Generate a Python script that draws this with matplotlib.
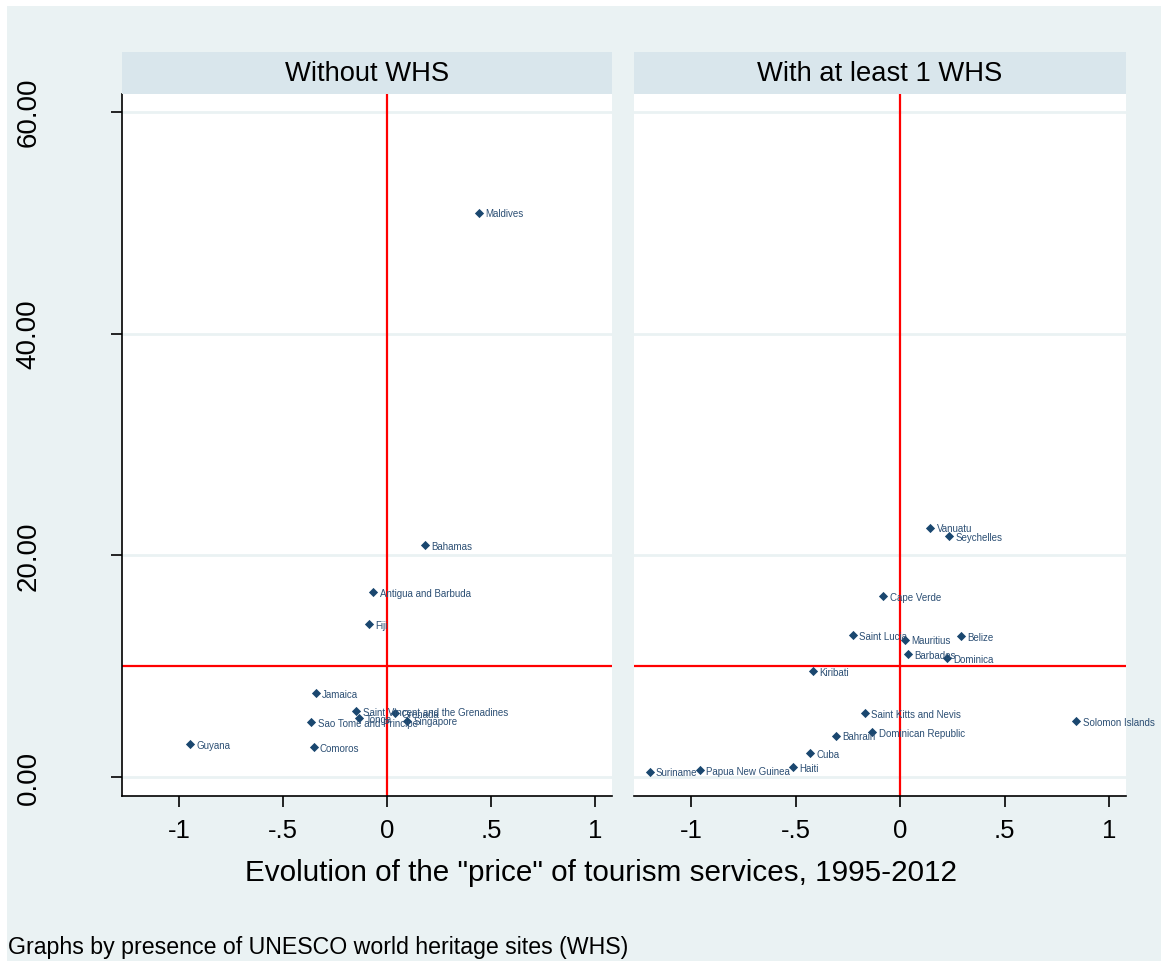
import numpy as np
import matplotlib.pyplot as plt
from matplotlib.patches import Rectangle

plt.rcParams['font.family'] = ['Liberation Sans', 'DejaVu Sans']

# Panel 1: without WHS
c_no = ["Maldives", "Bahamas", "Antigua and Barbuda", "Fiji", "Jamaica",
        "Saint Vincent and the Grenadines", "Grenada", "Tonga", "Singapore",
        "Sao Tome and Principe", "Guyana", "Comoros"]
x_no = [0.441, 0.182, -0.067, -0.086, -0.345, -0.149, 0.038, -0.135, 0.094,
        -0.365, -0.947, -0.354]
y_no = [50.9, 20.9, 16.7, 13.8, 7.6, 5.95, 5.8, 5.3, 5.1, 4.97, 2.95, 2.7]

# Panel 2: with at least 1 WHS
c_wh = ["Vanuatu", "Seychelles", "Cape Verde", "Saint Lucia", "Mauritius",
        "Belize", "Barbados", "Dominica", "Kiribati", "Saint Kitts and Nevis",
        "Solomon Islands", "Bahrain", "Dominican Republic", "Cuba", "Haiti",
        "Papua New Guinea", "Suriname"]
x_wh = [0.143, 0.234, -0.081, -0.228, 0.023, 0.291, 0.035, 0.223, -0.416,
        -0.171, 0.842, -0.309, -0.134, -0.432, -0.516, -0.958, -1.2]
y_wh = [22.5, 21.7, 16.3, 12.8, 12.4, 12.7, 11.1, 10.7, 9.55, 5.8, 5.05,
        3.75, 4.05, 2.15, 0.9, 0.65, 0.5]

panels = [("Without WHS", c_no, x_no, y_no), ("With at least 1 WHS", c_wh, x_wh, y_wh)]
xticks = [-1, -0.5, 0, 0.5, 1]
xticklabels = ["-1", "-.5", "0", ".5", "1"]
yticks = [0, 20, 40, 60]
yticklabels = ["0.00", "20.00", "40.00", "60.00"]
xref, yref = 0, 10

W, H = 1161, 962
bg = "#eaf2f3"
navy = "#1a476f"
fig = plt.figure(figsize=(W / 100, H / 100), dpi=100)
fig.patch.set_facecolor("white")
fig.patches.append(Rectangle((7 / W, 0), 1, (H - 7) / H, transform=fig.transFigure,
                             facecolor=bg, edgecolor="none", zorder=-10))

lefts = [122, 634]
widths = [490, 492]
for i, (title, names, xs, ys) in enumerate(panels):
    l, w = lefts[i], widths[i]
    ax = fig.add_axes([l / W, 165 / H, w / W, 702 / H])
    ax.set_xlim(-1.275, 1.08)
    ax.set_ylim(-1.7, 61.6)
    for yy in yticks:
        ax.axhline(yy, color=bg, lw=2, zorder=0)
    ax.axhline(yref, color="red", lw=1.6, zorder=1)
    ax.axvline(xref, color="red", lw=1.6, zorder=1)
    ax.scatter(xs, ys, marker="D", s=22, color=navy, zorder=3, linewidths=0)
    for n, xx, yy in zip(names, xs, ys):
        ax.annotate(n, (xx, yy), xytext=(4.5, -0.5), textcoords="offset points",
                    va="center", ha="left", fontsize=7, color="#2c4f74", zorder=4)
    for s in ["top", "right"]:
        ax.spines[s].set_visible(False)
    ax.spines["bottom"].set_linewidth(1.2)
    ax.set_xticks(xticks)
    ax.set_xticklabels(xticklabels, fontsize=18.5)
    ax.tick_params(axis="x", length=8, width=1.2, pad=8)
    if i == 0:
        ax.spines["left"].set_linewidth(1.2)
        ax.set_yticks(yticks)
        ax.set_yticklabels(yticklabels, fontsize=20, rotation=90, va="center")
        ax.tick_params(axis="y", length=8, width=1.2, pad=50)
    else:
        ax.spines["left"].set_visible(False)
        ax.set_yticks([])
    # strip
    sax = fig.add_axes([l / W, 867 / H, w / W, 42 / H])
    sax.set_facecolor("#d9e6ec")
    sax.set_xticks([])
    sax.set_yticks([])
    for s in sax.spines.values():
        s.set_visible(False)
    sax.text(0.5, 0.5, title, ha="center", va="center", fontsize=19.7,
             transform=sax.transAxes)

fig.text(601 / W, 1 - 873 / H, 'Evolution of the "price" of tourism services, 1995-2012',
         ha="center", va="center", fontsize=21.3)
fig.text(8 / W, 1 - 948 / H, "Graphs by presence of UNESCO world heritage sites (WHS)",
         ha="left", va="center", fontsize=16.7)

fig.savefig("out.png", dpi=100)
